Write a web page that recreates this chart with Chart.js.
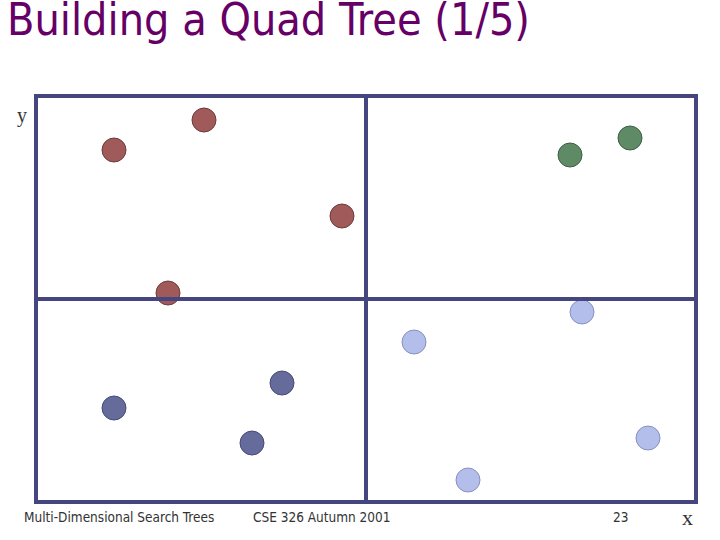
<!DOCTYPE html><html><head><meta charset="utf-8">
<script src="https://cdn.jsdelivr.net/npm/chart.js@4"></script>
<style>
body{margin:0;width:720px;height:540px;background:#fff;position:relative;overflow:hidden}
canvas{position:absolute;left:0;top:0}
.t{position:absolute;white-space:nowrap}
</style></head><body>
<div class="t" style="left:7px;top:-6px;font:44.5px 'DejaVu Sans Condensed','DejaVu Sans';color:#660066">Building a Quad Tree (1/5)</div>
<div class="t" style="left:17px;top:104px;font:20px 'Liberation Serif';color:#333">y</div>
<div class="t" style="left:682px;top:505px;font:22px 'Liberation Serif';color:#333">x</div>
<div class="t" style="left:24px;top:509px;font:13.5px 'DejaVu Sans Condensed','DejaVu Sans';color:#333">Multi-Dimensional Search Trees</div>
<div class="t" style="left:253px;top:509px;font:13.5px 'DejaVu Sans Condensed','DejaVu Sans';color:#333">CSE 326 Autumn 2001</div>
<div class="t" style="left:613px;top:509px;font:13.5px 'DejaVu Sans Condensed','DejaVu Sans';color:#333">23</div>
<canvas id="c" width="720" height="540"></canvas>
<script>
const redX=[78,168,306,132], redY=[352,382,286,209];
const greenX=[534,594], greenY=[347,364];
const darkX=[78,246,216], darkY=[94,119,59];
const lightX=[546,378,612,432], lightY=[190,160,64,22];
const splitX=330, splitY=203;
const pts=(xs,ys)=>xs.map((x,i)=>({x,y:ys[i]}));
const ds=(xs,ys,c,b)=>({data:pts(xs,ys),backgroundColor:c,borderColor:b,borderWidth:1,pointRadius:12});
const frame={id:'frame',afterDraw(ch){const {ctx,chartArea:a,scales:s}=ch;ctx.save();ctx.strokeStyle='#45457f';ctx.lineWidth=4;
ctx.strokeRect(a.left,a.top,a.right-a.left,a.bottom-a.top);
const px=s.x.getPixelForValue(splitX),py=s.y.getPixelForValue(splitY);
ctx.beginPath();ctx.moveTo(px,a.top);ctx.lineTo(px,a.bottom);ctx.moveTo(a.left,py);ctx.lineTo(a.right,py);ctx.stroke();ctx.restore();}};
new Chart(document.getElementById('c'),{type:'scatter',
data:{datasets:[ds(redX,redY,'#a05a5a','#6e3a3a'),ds(greenX,greenY,'#5f8a66','#3e5e44'),ds(darkX,darkY,'#656b9b','#454a75'),ds(lightX,lightY,'#b3bfea','#8590c0')]},
options:{responsive:false,animation:false,layout:{padding:{left:36,right:24,top:96,bottom:38}},
plugins:{legend:{display:false},tooltip:{enabled:false}},
scales:{x:{display:false,min:0,max:660},y:{display:false,min:0,max:406}}},plugins:[frame]});
</script></body></html>
